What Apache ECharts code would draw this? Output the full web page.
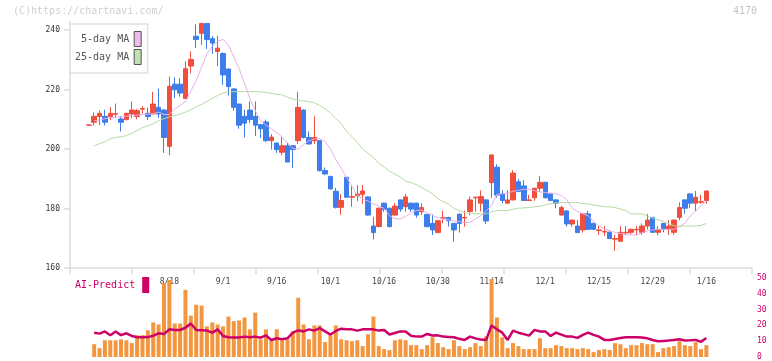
<!DOCTYPE html>
<html><head><meta charset="utf-8">
<script src="https://cdn.jsdelivr.net/npm/echarts@6/dist/echarts.min.js"></script>
<style>html,body{margin:0;padding:0;background:#fff}#c{width:772px;height:361px}</style>
</head><body><div id="c"></div>
<script>
const dates = ['7/25','7/28','7/29','7/30','7/31',
'8/1','8/4','8/5','8/6','8/7','8/8','8/12','8/13','8/14','8/15','8/18','8/19','8/20','8/21','8/22','8/25','8/26','8/27','8/28','8/29',
'9/1','9/2','9/3','9/4','9/5','9/8','9/9','9/10','9/11','9/12','9/16','9/17','9/18','9/19','9/22','9/24','9/25','9/26','9/29','9/30',
'10/1','10/2','10/3','10/6','10/7','10/8','10/9','10/10','10/14','10/15','10/16','10/17','10/20','10/21','10/22','10/23','10/24','10/27','10/28','10/29','10/30','10/31',
'11/4','11/5','11/6','11/7','11/10','11/11','11/12','11/13','11/14','11/17','11/18','11/19','11/20','11/21','11/25','11/26','11/27','11/28',
'12/1','12/2','12/3','12/4','12/5','12/8','12/9','12/10','12/11','12/12','12/15','12/16','12/17','12/18','12/19','12/22','12/23','12/24','12/25','12/26','12/29','12/30',
'1/5','1/6','1/7','1/8','1/9','1/13','1/14','1/15','1/16'];

const opens = [208.0,209.0,210.9,211.0,210.9,211.7,210.1,209.9,211.8,210.9,213.4,212.0,211.8,214.0,213.1,200.9,221.8,221.8,217.0,227.9,
237.9,238.9,242.2,237.1,232.8,232.1,226.9,220.2,215.1,211.0,213.1,211.0,208.2,209.1,202.8,202.0,198.9,201.1,201.1,202.8,
213.1,203.9,202.8,202.8,192.8,190.8,185.8,180.4,190.5,183.8,184.3,184.8,183.9,174.1,173.9,181.8,180.1,177.8,182.9,180.6,
181.8,181.8,178.9,178.0,175.0,171.9,176.7,177.0,175.0,178.1,176.8,179.0,183.6,181.8,182.9,188.7,193.9,184.9,181.8,182.9,
189.0,187.6,182.7,183.6,186.8,188.8,184.9,182.9,177.8,179.2,174.8,174.1,172.8,178.2,175.0,172.6,172.1,172.0,169.7,169.0,
171.8,172.0,172.8,172.0,174.1,177.0,172.0,175.0,173.0,172.0,177.0,182.9,184.9,181.8,182.1,182.7];
const closes = [208.1,211.0,212.0,209.0,212.0,211.9,209.0,212.0,213.1,212.9,213.6,210.9,215.1,211.8,203.9,221.1,219.9,218.8,227.0,230.1,
236.8,242.2,236.8,235.6,233.9,224.9,221.0,214.0,208.0,208.7,209.9,208.0,206.8,202.8,204.0,199.8,201.1,195.6,199.8,214.0,
203.9,201.7,203.9,192.7,191.6,186.6,180.4,182.7,183.8,184.0,184.9,185.9,177.8,171.9,180.1,179.7,173.9,180.8,179.8,183.9,
179.8,177.8,180.3,173.9,172.8,175.9,176.9,175.9,172.8,175.0,177.0,182.9,183.8,184.0,175.8,198.0,184.5,182.7,182.9,191.9,
185.7,182.7,182.9,186.8,188.8,183.6,182.7,181.8,180.3,174.8,176.1,171.9,178.2,173.0,173.0,172.8,172.3,169.9,169.9,172.0,
172.0,173.0,173.0,174.1,176.1,172.0,173.0,173.0,174.1,176.1,180.3,180.1,181.8,183.8,182.3,185.9];
const lows = [207.9,207.9,208.0,207.9,209.7,210.4,205.9,209.6,210.4,210.0,211.9,209.7,211.6,210.4,198.7,197.9,217.1,217.6,216.9,225.5,
233.9,235.0,233.6,232.0,227.8,221.6,218.0,212.9,206.8,203.9,208.7,204.4,203.7,202.4,199.8,198.7,197.9,195.6,193.6,201.7,
203.5,201.5,201.7,192.5,191.4,186.4,180.0,177.9,183.6,180.6,182.5,181.5,177.6,169.6,173.7,178.9,173.7,177.6,178.9,178.9,
178.9,176.9,177.8,173.7,171.1,171.7,175.0,173.9,168.9,171.9,173.9,177.8,179.0,179.0,174.8,183.6,183.6,181.8,181.6,182.7,
185.5,182.5,182.5,182.6,185.5,183.4,182.5,180.1,177.6,173.9,173.9,171.7,171.9,172.8,172.8,171.1,170.8,169.7,165.8,168.8,
171.1,171.1,171.1,171.1,173.0,171.8,171.0,172.0,171.1,171.1,176.1,178.2,180.1,179.2,181.6,181.6];
const highs = [208.2,212.3,212.9,213.2,214.0,215.3,210.9,212.2,216.0,213.5,214.4,213.9,219.2,220.3,213.5,224.4,224.1,223.8,229.5,232.8,
241.9,242.4,242.4,238.0,238.0,232.5,227.0,220.5,215.3,213.2,216.0,216.0,208.5,209.9,205.0,202.2,204.0,202.0,201.3,219.2,
213.3,205.9,211.0,203.0,193.8,191.0,186.9,184.9,190.6,187.9,187.9,187.9,184.0,177.2,180.3,182.0,180.3,181.8,183.0,184.9,
182.0,182.0,181.8,178.2,178.0,176.1,179.2,177.2,175.2,178.3,179.3,184.0,184.0,186.1,183.0,198.2,194.9,186.1,186.1,192.9,
189.9,189.6,184.6,187.0,190.9,189.0,185.1,183.1,180.9,179.4,176.3,176.1,178.4,179.2,175.2,174.1,174.1,172.7,171.1,174.1,
174.1,173.2,174.1,175.0,178.2,177.2,174.1,175.2,176.1,176.3,182.1,183.1,185.1,185.9,184.6,186.0];

const ma5 = ['-',209.5,209.7,210.2,210.4,210.8,210.9,211.0,211.2,211.4,211.6,211.7,211.9,212.4,211.6,211.6,213.5,214.6,216.0,219.5,
223.0,227.5,232.0,234.5,236.3,236.8,235.0,231.0,227.0,222.0,217.0,213.0,209.5,208.0,206.8,205.5,204.0,202.0,200.2,200.0,
201.5,202.8,203.4,203.5,202.5,200.0,196.5,193.5,190.5,187.5,184.5,183.2,182.5,181.5,180.9,180.0,177.5,176.6,176.5,177.3,
178.5,179.3,179.5,178.5,177.7,177.0,176.5,176.2,175.8,175.6,175.2,175.4,176.5,177.6,179.2,181.0,184.8,184.9,185.2,185.8,
186.1,186.5,186.4,186.0,185.6,185.4,185.2,185.0,184.4,183.0,180.1,179.0,178.2,177.6,175.6,174.1,173.2,172.4,172.0,171.6,
171.1,171.2,171.1,171.8,172.5,172.8,173.0,173.0,173.0,173.0,174.0,175.0,177.5,179.0,181.0,182.4];
const ma25 = ['-',201.0,201.8,202.4,203.4,203.9,204.1,204.5,205.2,206.2,207.2,207.8,208.5,209.5,210.2,210.8,211.2,211.8,212.4,213.2,
214.2,215.0,216.0,217.0,218.0,218.8,219.3,219.3,219.3,219.3,219.3,219.3,219.2,219.0,218.7,218.4,218.2,217.4,216.8,216.3,
216.2,215.9,215.5,214.6,213.5,212.1,210.3,208.5,206.0,204.2,202.2,200.0,198.6,197.1,195.2,194.0,192.5,191.6,190.6,189.2,
188.7,188.0,187.0,186.0,185.0,183.3,182.3,181.5,180.0,179.3,178.6,178.3,178.2,178.2,178.2,178.9,179.3,179.3,179.3,179.8,
180.1,180.2,180.3,180.6,180.7,181.2,181.6,181.9,182.0,182.0,182.0,182.0,181.7,181.5,181.2,180.9,180.6,180.6,180.3,179.8,
179.3,178.2,178.2,178.2,177.5,176.8,176.2,175.7,174.9,174.2,174.1,174.1,174.1,174.1,174.3,175.0];

const volume = ['-',8.1,5.6,10.6,10.6,10.6,11.2,10.6,8.8,13.8,13.8,16.9,21.9,20.6,46.7,48.8,21.2,21.2,42.5,26.2,
33.1,32.5,19.4,21.9,20.6,19.4,25.6,22.7,23.1,25.0,17.5,28.1,11.2,17.5,11.2,17.5,10.6,11.2,16.2,37.5,
20.6,11.2,20.0,20.0,9.4,13.8,20.0,11.2,10.6,10.0,10.6,6.9,14.4,25.6,6.9,5.0,4.4,10.6,11.2,10.6,
7.5,7.5,5.0,7.5,12.5,8.8,6.2,5.0,10.6,6.9,5.0,6.2,8.8,6.9,13.1,49.4,25.0,12.5,5.6,8.8,
6.9,5.0,5.0,5.0,11.9,5.6,5.6,7.5,6.9,5.6,5.6,5.0,5.6,5.0,3.1,4.4,5.0,4.4,8.8,8.1,
5.6,7.5,7.5,8.8,8.1,8.1,3.1,5.6,6.2,6.9,10.0,7.5,6.9,9.4,5.0,7.5];
const aiPredict = ['-',15.4,14.8,16.2,13.8,16.2,13.8,15.0,13.3,12.5,12.5,12.6,13.5,15.0,14.5,17.5,17.1,17.1,18.5,21.2,
17.1,17.0,16.7,15.4,17.5,13.3,12.5,12.4,12.3,12.9,12.5,12.9,12.2,13.7,10.8,11.9,11.3,11.8,15.4,16.9,
16.2,17.5,16.7,18.3,16.2,14.2,16.5,17.9,17.5,17.5,16.7,17.5,17.5,17.5,16.7,17.1,14.2,15.2,16.2,16.2,
13.5,12.9,12.9,14.6,13.6,13.7,12.9,12.7,12.5,11.5,10.8,12.9,11.8,11.0,10.8,20.0,17.5,15.4,10.8,16.7,
15.4,14.5,13.5,17.1,16.2,16.2,13.3,15.4,14.2,12.9,12.9,12.1,14.0,15.4,14.0,12.9,10.8,10.8,11.4,12.0,
12.5,12.5,12.5,12.3,11.8,10.8,10.0,10.2,10.4,10.8,11.2,10.5,10.6,10.8,9.6,12.1];

const xTickLabels = ['8/18','9/1','9/16','10/1','10/16','10/30','11/14','12/1','12/15','12/29','1/16'];
const priceTicks = [160,180,200,220,240];
const predictTicks = [0,10,20,30,40,50];

const LEAD = 3, TRAIL = 8;
const lead = Array.from({length: LEAD}, (_, k) => '_l' + k);
const trail = Array.from({length: TRAIL}, (_, k) => '_t' + k);
const cats = lead.concat(dates, trail);
const pad = a => Array(LEAD).fill('-').concat(a, Array(TRAIL).fill('-'));
const candle = dates.map((d, i) => [opens[i], closes[i], lows[i], highs[i]]);
const labelSet = new Set(xTickLabels);

const MONO = '"DejaVu Sans Mono", "Liberation Mono", monospace';
const UP = '#f04e3e', DOWN = '#3d7eea', AI = '#cc0066';

const chart = echarts.init(document.getElementById('c'), null, {renderer: 'canvas'});
chart.setOption({
  animation: false,
  backgroundColor: '#fff',
  title: [
    {text: '(C)https://chartnavi.com/', left: 13, top: 6, padding: 0,
     textStyle: {color: '#cfcfcf', fontSize: 10, fontWeight: 'normal', fontFamily: MONO}},
    {text: '4170', right: 15, top: 6, padding: 0,
     textStyle: {color: '#c4c4c4', fontSize: 10, fontWeight: 'normal', fontFamily: MONO}}
  ],
  legend: [
    {left: 70, top: 24, orient: 'vertical', align: 'right', selectedMode: false,
     padding: [7, 6, 8, 5], itemGap: 2, itemWidth: 7, itemHeight: 15,
     backgroundColor: '#fff', borderColor: '#e0e0e0', borderWidth: 1.5,
     textStyle: {color: '#555', fontSize: 10, fontFamily: MONO},
     formatter: n => n.padStart(9, ' '),
     data: [
       {name: '5-day MA', icon: 'rect', itemStyle: {color: '#ecbcec', borderColor: '#555', borderWidth: 1}},
       {name: '25-day MA', icon: 'rect', itemStyle: {color: '#bfe0b0', borderColor: '#555', borderWidth: 1}}
     ]},
    {left: 70, top: 277, orient: 'horizontal', align: 'right', selectedMode: false,
     padding: [0, 0, 0, 5], itemWidth: 7, itemHeight: 16,
     textStyle: {color: AI, fontSize: 10, fontFamily: MONO, padding: [0, 2, 0, 0]},
     data: [{name: 'AI-Predict', icon: 'rect', itemStyle: {color: AI, borderWidth: 0}}]}
  ],
  grid: [
    {left: 70, right: 20, top: 22, bottom: 93},
    {left: 70, right: 20, top: 278, bottom: 3}
  ],
  xAxis: [
    {type: 'category', gridIndex: 0, data: cats, boundaryGap: true,
     axisLine: {show: true, lineStyle: {color: '#dcdcdc', width: 1.5}},
     axisTick: {show: false},
     axisLabel: {show: true, interval: (idx, val) => labelSet.has(val), margin: 10,
       color: '#444', fontSize: 8, fontFamily: MONO},
     splitLine: {show: false}},
    {type: 'value', gridIndex: 0, position: 'bottom', min: 0, max: 11, interval: 1,
     axisLine: {show: false}, axisLabel: {show: false}, splitLine: {show: false},
     axisTick: {show: true, length: 6, lineStyle: {color: '#dcdcdc', width: 1.5}}},
    {type: 'category', gridIndex: 1, data: cats, boundaryGap: true, show: false}
  ],
  yAxis: [
    {type: 'value', gridIndex: 0, min: 160, max: 242.7, interval: 20, position: 'left',
     axisLine: {show: true, lineStyle: {color: '#dcdcdc', width: 1.5}},
     axisTick: {show: true, length: 6, customValues: priceTicks, lineStyle: {color: '#dcdcdc', width: 1.5}},
     axisLabel: {margin: 10, color: '#333', fontSize: 8, fontFamily: MONO, customValues: priceTicks,
       formatter: v => (v % 20 === 0 ? String(v) : '')},
     splitLine: {show: false}},
    {type: 'value', gridIndex: 1, min: 0, max: 50, interval: 10, position: 'right',
     axisLine: {show: false}, axisTick: {show: false}, splitLine: {show: false},
     axisLabel: {margin: 5, color: AI, fontSize: 8, fontFamily: MONO}}
  ],
  series: [
    {name: 'Price', type: 'candlestick', xAxisIndex: 0, yAxisIndex: 0, barWidth: 5,
     data: pad(candle),
     itemStyle: {color: UP, color0: DOWN, borderColor: UP, borderColor0: DOWN, borderWidth: 1}},
    {name: '5-day MA', type: 'line', xAxisIndex: 0, yAxisIndex: 0, data: pad(ma5),
     showSymbol: false, symbol: 'none', lineStyle: {color: '#e8b0e8', width: 1}, itemStyle: {color: '#ecbcec'}},
    {name: '25-day MA', type: 'line', xAxisIndex: 0, yAxisIndex: 0, data: pad(ma25),
     showSymbol: false, symbol: 'none', lineStyle: {color: '#b4dca4', width: 1}, itemStyle: {color: '#bfe0b0'}},
    {name: 'Volume', type: 'bar', xAxisIndex: 2, yAxisIndex: 1, data: pad(volume),
     barWidth: 4, itemStyle: {color: '#f3963f'}},
    {name: 'AI-Predict', type: 'line', xAxisIndex: 2, yAxisIndex: 1, data: pad(aiPredict),
     showSymbol: false, symbol: 'none', lineStyle: {color: AI, width: 2.5}, itemStyle: {color: AI}}
  ]
});
</script></body></html>
